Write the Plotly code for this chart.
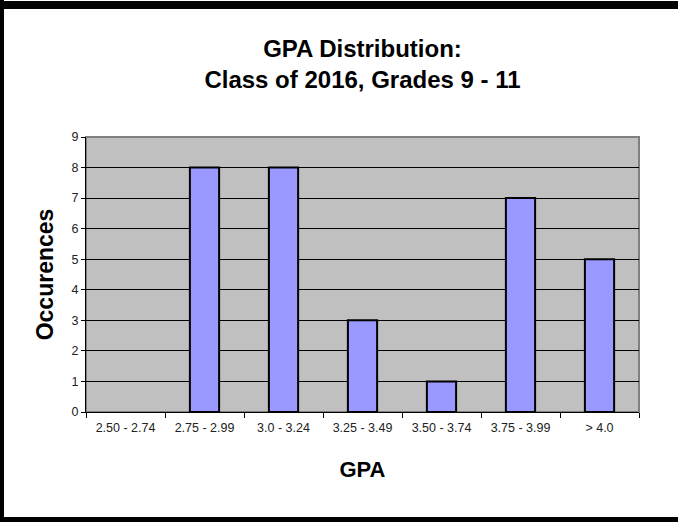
import plotly.graph_objects as go

categories = ["2.50 - 2.74", "2.75 - 2.99", "3.0 - 3.24", "3.25 - 3.49",
              "3.50 - 3.74", "3.75 - 3.99", "> 4.0"]
occurrences = [0, 8, 8, 3, 1, 7, 5]
y_ticks = [0, 1, 2, 3, 4, 5, 6, 7, 8, 9]

FONT = "Liberation Sans, Arial, sans-serif"

fig = go.Figure(go.Bar(
    x=categories, y=occurrences,
    marker=dict(color="#9999FF",
                line=dict(color="black",
                          width=[0 if v == 0 else 2 for v in occurrences])),
    width=0.37,
))

L, R, T, B = 86, 39, 137, 110
W, H = 678, 522
pw, ph = W - L - R, H - T - B

def px(x):
    return (x - L) / pw

def py(y):
    return (H - B - y) / ph

shapes = [
    # plot area border
    dict(type="rect", xref="paper", yref="paper", x0=0, x1=1, y0=0, y1=1,
         line=dict(color="#808080", width=2), layer="below"),
    # outer black frame: top, left, bottom
    dict(type="rect", xref="paper", yref="paper", x0=px(0), x1=px(W),
         y0=py(9), y1=py(1), fillcolor="black", line=dict(width=0)),
    dict(type="rect", xref="paper", yref="paper", x0=px(0), x1=px(4),
         y0=py(W), y1=py(0), fillcolor="black", line=dict(width=0)),
    dict(type="rect", xref="paper", yref="paper", x0=px(0), x1=px(W),
         y0=py(H), y1=py(517), fillcolor="black", line=dict(width=0)),
]

fig.update_layout(
    width=W, height=H,
    margin=dict(l=L, r=R, t=T, b=B),
    paper_bgcolor="white", plot_bgcolor="#C0C0C0",
    font=dict(family=FONT, color="black"),
    showlegend=False,
    title=dict(text="<b>GPA Distribution:<br>Class of 2016, Grades 9 - 11</b>",
               x=0.5, xanchor="center", xref="paper",
               y=1 - 57 / H, yanchor="middle",
               font=dict(family=FONT, size=24, color="black")),
    xaxis=dict(
        title=dict(text="<b>GPA</b>", font=dict(family=FONT, size=22), standoff=27),
        showline=True, linecolor="black", linewidth=1,
        ticks="outside", ticklen=5, tickcolor="black",
        tickson="boundaries", ticklabelstandoff=4,
        tickfont=dict(family=FONT, size=12.5, color="#222"),
        showgrid=False,
    ),
    yaxis=dict(
        title=dict(text="<b>Occurences</b>", font=dict(family=FONT, size=23), standoff=11),
        range=[0, 9], tickvals=y_ticks,
        showline=True, linecolor="black", linewidth=1,
        ticks="outside", ticklen=4, tickcolor="black",
        tickfont=dict(family=FONT, size=12.5, color="#222"),
        showgrid=True, gridcolor="black", gridwidth=1,
        zeroline=False,
    ),
    shapes=shapes,
    bargap=0.63,
)

fig.write_html("out.html", config={"displayModeBar": False},
               post_script="document.body.style.margin='0';document.body.style.padding='0';")
